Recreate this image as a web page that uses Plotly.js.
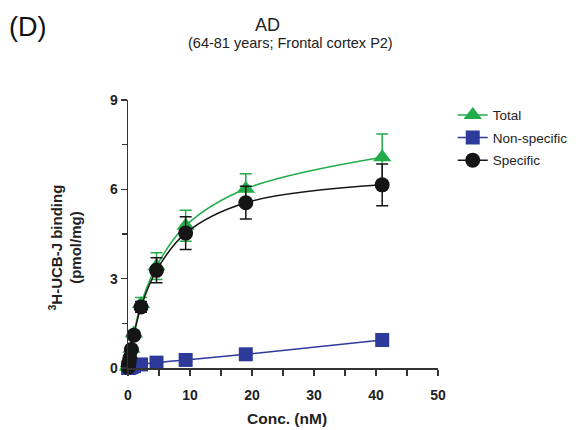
<!DOCTYPE html>
<html>
<head>
<meta charset="utf-8">
<script src="https://cdn.plot.ly/plotly-3.0.1.min.js"></script>
<style>html,body{margin:0;padding:0;background:#fff;}#chart{width:576px;height:430px;}</style>
</head>
<body>
<div id="chart"></div>
<script>
// Concentrations (nM)
var conc = [0.04, 0.08, 0.15, 0.3, 0.55, 0.95, 2.1, 4.6, 9.3, 19.0, 41.0];
// Binding values (pmol/mg)
var totalVals = [0.03, 0.08, 0.17, 0.35, 0.65, 1.16, 2.15, 3.42, 4.78, 6.02, 7.08];
var totalErr = [0.01, 0.01, 0.02, 0.03, 0.05, 0.1, 0.22, 0.45, 0.52, 0.5, 0.78];
var nonSpecVals = [0.0, 0.0, 0.01, 0.02, 0.03, 0.06, 0.12, 0.18, 0.27, 0.46, 0.94];
var nonSpecErr = [0, 0, 0, 0, 0, 0.01, 0.01, 0.02, 0.03, 0.04, 0.06];
var specVals = [0.03, 0.08, 0.16, 0.33, 0.62, 1.1, 2.05, 3.28, 4.53, 5.55, 6.15];
var specErr = [0.01, 0.01, 0.02, 0.03, 0.05, 0.1, 0.18, 0.42, 0.55, 0.55, 0.7];
var seriesNames = ["Total", "Non-specific", "Specific"];
var xTicks = [0, 10, 20, 30, 40, 50];
var yTicks = [0, 3, 6, 9];

var green = "#22ad4a", blue = "#2d3a9a", black = "#151515";

function trace(name, y, err, color, symbol, size) {
  return {
    type: "scatter", mode: "lines+markers", name: name, legendgroup: name,
    x: conc, y: y, cliponaxis: false,
    line: {color: color, width: 1.5, shape: "spline", smoothing: 1},
    marker: {color: color, symbol: symbol, size: size},
    error_y: {type: "data", array: err, visible: true, color: color, thickness: 1.5, width: 6}
  };
}

var data = [
  trace(seriesNames[0], totalVals, totalErr, green, "triangle-up", 16),
  trace(seriesNames[1], nonSpecVals, nonSpecErr, blue, "square", 14),
  trace(seriesNames[2], specVals, specErr, black, "circle", 15)
];

var tickFont = {family: "Liberation Sans, Arial, sans-serif", size: 14, color: "#222", weight: "bold"};
var layout = {
  width: 576, height: 430,
  margin: {l: 128, r: 138, t: 100, b: 62},
  paper_bgcolor: "#fff", plot_bgcolor: "#fff",
  showlegend: true,
  legend: {xref: "container", yref: "container", x: 0.786, y: 0.768, xanchor: "left", yanchor: "top",
           tracegroupgap: 2,
           font: {family: "Liberation Sans, Arial, sans-serif", size: 13.5, color: "#222"},
           bgcolor: "rgba(0,0,0,0)"},
  xaxis: {range: [0, 50], tickvals: xTicks, ticktext: xTicks.map(String),
          showgrid: false, zeroline: false, showline: true, linecolor: "#333", linewidth: 1.5,
          ticks: "outside", ticklen: 6, tickwidth: 1.5, tickcolor: "#333", tickfont: tickFont,
          ticklabelstandoff: 8,
          minor: {dtick: 5, ticks: "outside", ticklen: 6, tickwidth: 1.5, tickcolor: "#333"}},
  yaxis: {range: [0, 9], tickvals: yTicks, ticktext: yTicks.map(String),
          showgrid: false, zeroline: false, showline: true, linecolor: "#333", linewidth: 1.5,
          ticks: "outside", ticklen: 6, tickwidth: 1.5, tickcolor: "#333", tickfont: tickFont,
          minor: {dtick: 1.5, ticks: "outside", ticklen: 5, tickwidth: 1.5, tickcolor: "#333"}},
  annotations: [
    {text: "(D)", xref: "paper", yref: "paper", x: -0.39, y: 1.272, xanchor: "left", yanchor: "middle",
     showarrow: false, font: {family: "Liberation Sans, Arial, sans-serif", size: 27, color: "#111"}},
    {text: "AD", xref: "paper", yref: "paper", x: 0.4516, y: 1.28, xanchor: "center", yanchor: "middle",
     showarrow: false, font: {family: "Liberation Sans, Arial, sans-serif", size: 18, color: "#222"}},
    {text: "(64-81 years; Frontal cortex P2)", xref: "paper", yref: "paper", x: 0.5226, y: 1.2127,
     xanchor: "center", yanchor: "middle", showarrow: false,
     font: {family: "Liberation Sans, Arial, sans-serif", size: 14.5, color: "#222"}},
    {text: "<sup>3</sup>H-UCB-J binding<br>(pmol/mg)", xref: "paper", yref: "paper", x: -0.203, y: 0.45,
     xanchor: "center", yanchor: "middle", textangle: -90, showarrow: false,
     font: {family: "Liberation Sans, Arial, sans-serif", size: 15, color: "#222", weight: "bold"}},
    {text: "Conc. (nM)", xref: "paper", yref: "paper", x: 0.513, y: -0.1866, xanchor: "center", yanchor: "middle",
     showarrow: false, font: {family: "Liberation Sans, Arial, sans-serif", size: 15.5, color: "#222", weight: "bold"}}
  ]
};

Plotly.newPlot("chart", data, layout, {displayModeBar: false, staticPlot: true});
</script>
</body>
</html>
